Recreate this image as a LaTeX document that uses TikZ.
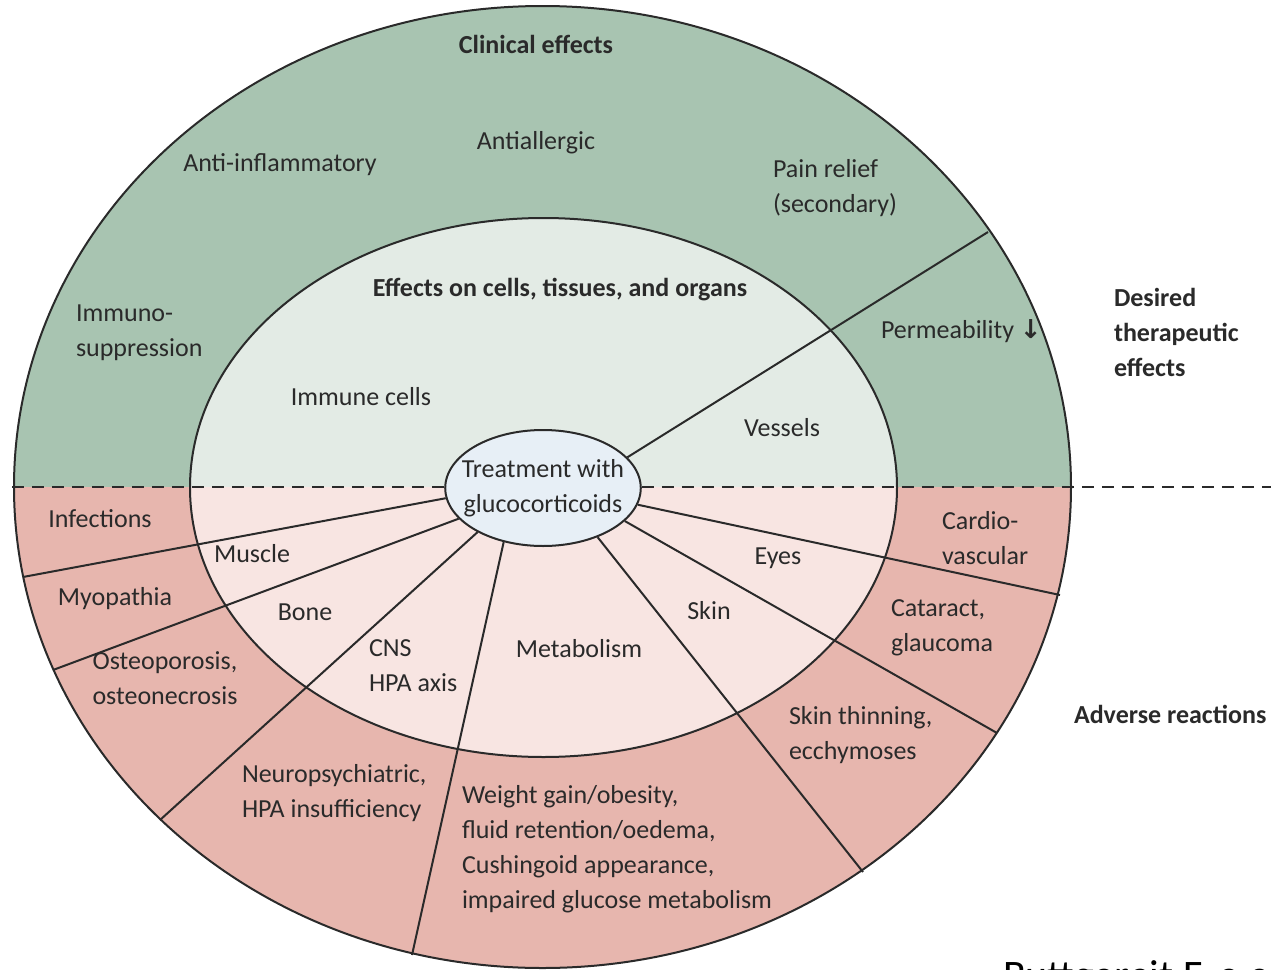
\documentclass[tikz,border=0pt]{standalone}
\usepackage{fontspec}
\setmainfont{Carlito}
\newfontfamily\arrowfont{DejaVu Sans}
\usetikzlibrary{shapes.geometric}

\definecolor{ringgreen}{HTML}{A8C4B1}
\definecolor{coregreen}{HTML}{E3EBE5}
\definecolor{ringred}{HTML}{E7B6AE}
\definecolor{corered}{HTML}{F8E5E2}
\definecolor{centreblue}{HTML}{E7EFF6}
\definecolor{ink}{HTML}{2A2A2A}

\begin{document}
\begin{tikzpicture}[x=0.5pt, y=-0.5pt, line width=1pt, color=ink,
  every node/.style={font=\fontsize{13}{17.5}\selectfont, inner sep=0pt},
  lbl/.style={align=left, anchor=west},
  head/.style={font=\fontsize{13}{17.5}\selectfont\bfseries}]
  \useasboundingbox (0,0) rectangle (1271,970);

  \coordinate (O) at (542.5,487);
  \coordinate (I) at (543.5,487.5);
  % ends of the spokes on the outer rim
  \coordinate (ves) at (988,232);
  \coordinate (eye) at (1060,595);
  \coordinate (ski) at (997,733);
  \coordinate (met) at (863,872);
  \coordinate (mus) at (23,577);
  \coordinate (bon) at (53,670);
  \coordinate (cns) at (160,820);
  \coordinate (hpa) at (412,955);
  \coordinate (dl) at (12,487);
  \coordinate (dr) at (1271,487);

  \begin{scope}
    \clip (0,0) rectangle (1271,487);
    \fill[ringgreen] (O) ellipse [x radius=528.5, y radius=481];
    \fill[coregreen] (I) ellipse [x radius=353.5, y radius=269.5];
  \end{scope}
  \begin{scope}
    \clip (0,487) rectangle (1271,970);
    \fill[ringred] (O) ellipse [x radius=528.5, y radius=481];
    \fill[corered] (I) ellipse [x radius=353.5, y radius=269.5];
  \end{scope}
  \draw (O) ellipse [x radius=528.5, y radius=481];
  \draw (I) ellipse [x radius=353.5, y radius=269.5];

  \node[ellipse, draw, fill=centreblue, minimum width=97pt, minimum height=58pt,
    inner xsep=-6pt, inner ysep=4pt, align=center] (T) at (543,488)
    {Treatment with\\glucocorticoids};

  \draw[line width=1.4pt, dash pattern=on 6pt off 4pt] (dl) -- (dl -| T.west);
  \draw[line width=1.4pt, dash pattern=on 6pt off 4pt] (dr -| T.east) -- (dr);

  \draw (T.20) -- (ves);
  \draw (T.-10) -- (eye);
  \draw (T.-22) -- (ski);
  \draw (T.-42) -- (met);
  \draw (T.186) -- (mus);
  \draw (T.200) -- (bon);
  \draw (T.214) -- (cns);
  \draw (T.234) -- (hpa);

  \node[head] (clin) at (536,44) {Clinical effects};
  \node (allerg) at (536,143) {Antiallergic};
  \node (inflam) at (280,165) {Anti-inflammatory};
  \node[lbl] (pain) at (772,188) {Pain relief\\(secondary)};
  \node[lbl] (immuno) at (75,333) {Immuno-\\suppression};
  \node[head] (cells) at (560,290) {Effects on cells, tissues, and organs};
  \node[lbl] (perm) at (880,331) {Permeability {\arrowfont\bfseries ↓}};
  \node (immune) at (361,397) {Immune cells};
  \node (vessels) at (782,428) {Vessels};
  \node[lbl, head] (desired) at (1113,332) {Desired\\therapeutic\\effects};

  \node (infect) at (100,519) {Infections};
  \node (muscle) at (252,554) {Muscle};
  \node (myo) at (115,599) {Myopathia};
  \node (bone) at (305,612) {Bone};
  \node[align=center] (osteo) at (165,678) {Osteoporosis,\\osteonecrosis};
  \node[lbl] (cnslab) at (368,666) {CNS\\HPA axis};
  \node (metab) at (579,649) {Metabolism};
  \node (skin) at (709,611) {Skin};
  \node (eyes) at (778,558) {Eyes};
  \node[lbl] (cardio) at (941,538) {Cardio-\\vascular};
  \node[lbl] (catar) at (890,628) {Cataract,\\glaucoma};
  \node[lbl] (thin) at (788,735) {Skin thinning,\\ecchymoses};
  \node[lbl] (neuro) at (241,793) {Neuropsychiatric,\\HPA insufficiency};
  \node[lbl] (weight) at (461,849) {Weight gain/obesity,\\fluid retention/oedema,\\Cushingoid appearance,\\impaired glucose metabolism};
  \node[lbl, head] (adverse) at (1073,714) {Adverse reactions};

  \node[anchor=north west, font=\fontsize{21}{25}\selectfont, text=black] (cite) at (1002,960) {Buttgereit F, e.c};
\end{tikzpicture}
\end{document}
